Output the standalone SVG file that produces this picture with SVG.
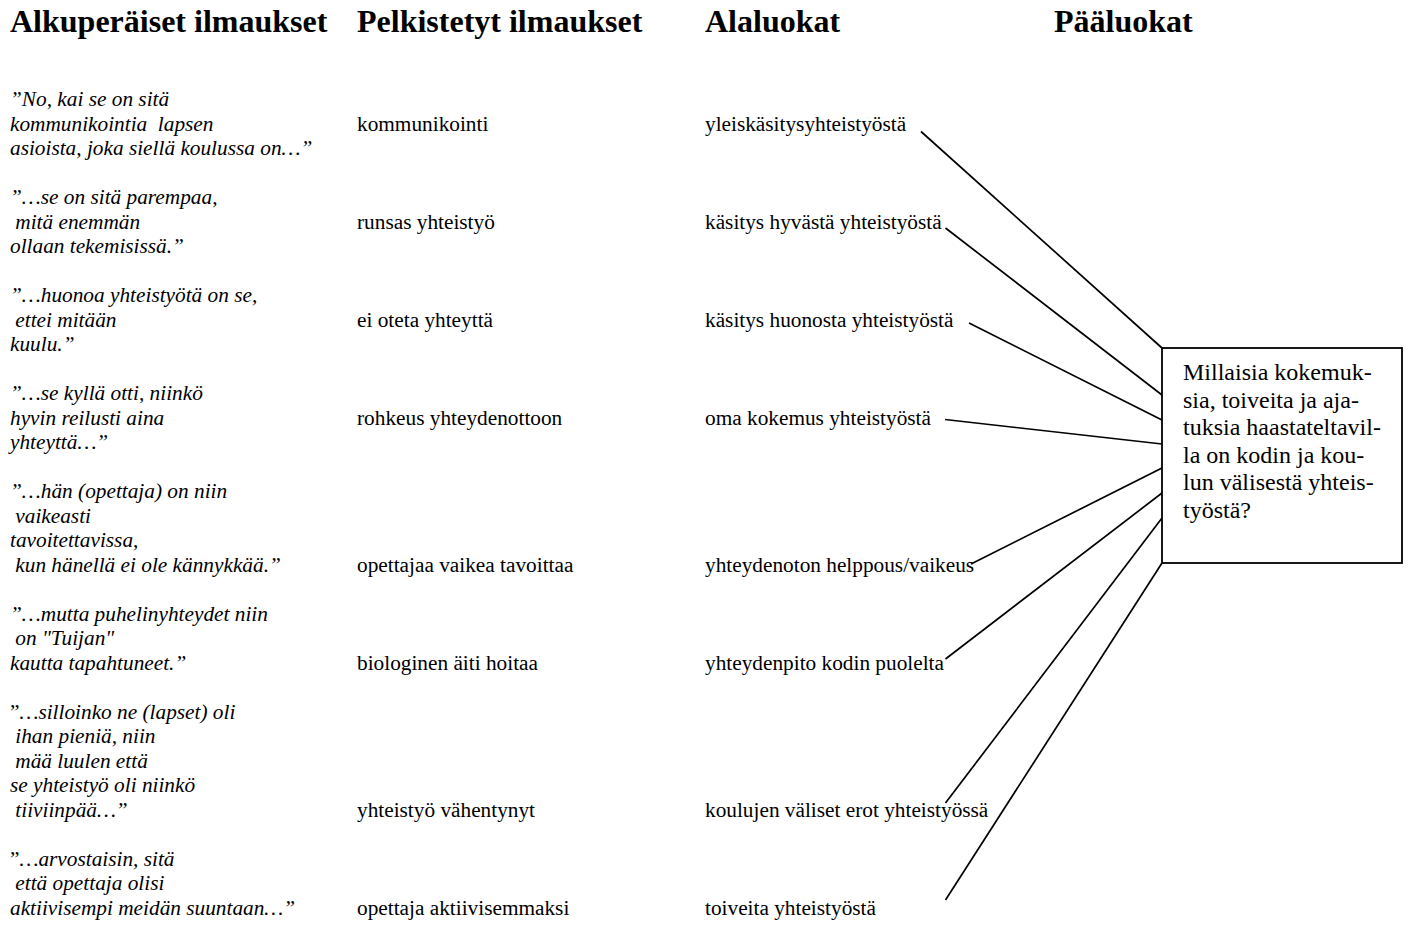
<svg xmlns="http://www.w3.org/2000/svg" width="1411" height="925" viewBox="0 0 1411 925">
<style>
.h{font-family:"Liberation Serif","Times New Roman",serif;font-weight:bold;font-size:32px;fill:#000}
.q{font-family:"Liberation Serif","Times New Roman",serif;font-style:italic;font-size:21.3px;fill:#000;white-space:pre}
.t{font-family:"Liberation Serif","Times New Roman",serif;font-size:21.3px;fill:#000}
.b{font-family:"Liberation Serif","Times New Roman",serif;font-size:24px;fill:#000}
.n{font-style:normal}
.c line{stroke:#000;stroke-width:1.7;fill:none}
</style>
<rect width="1411" height="925" fill="#fff"/>
<g id="headers">
<text class="h" x="10" y="32">Alkuperäiset ilmaukset</text>
<text class="h" x="357" y="32">Pelkistetyt ilmaukset</text>
<text class="h" x="705" y="32">Alaluokat</text>
<text class="h" x="1054" y="32">Pääluokat</text>
</g>
<g id="quotes">
<text class="q" x="10" y="106">”No, kai se on sitä</text>
<text class="q" x="10" y="130.5" xml:space="preserve">kommunikointia  lapsen</text>
<text class="q" x="10" y="155">asioista, joka siellä koulussa on…”</text>
<text class="q" x="10" y="204">”…se on sitä parempaa,</text>
<text class="q" x="15.3" y="228.5">mitä enemmän</text>
<text class="q" x="10" y="253">ollaan tekemisissä.”</text>
<text class="q" x="10" y="302">”…huonoa yhteistyötä on se,</text>
<text class="q" x="15.3" y="326.5">ettei mitään</text>
<text class="q" x="10" y="351">kuulu.”</text>
<text class="q" x="10" y="400">”…se kyllä otti, niinkö</text>
<text class="q" x="10" y="424.5">hyvin reilusti aina</text>
<text class="q" x="10" y="449">yhteyttä…”</text>
<text class="q" x="10" y="498">”…hän (opettaja) on niin</text>
<text class="q" x="15.3" y="522.5">vaikeasti</text>
<text class="q" x="10" y="547">tavoitettavissa,</text>
<text class="q" x="15.3" y="571.5">kun hänellä ei ole kännykkää.”</text>
<text class="q" x="10" y="620.5">”…mutta puhelinyhteydet niin</text>
<text class="q" x="15.3" y="645">on "Tuijan"</text>
<text class="q" x="10" y="669.5">kautta tapahtuneet.”</text>
<text class="q" x="10" y="718.5"><tspan class="n">”</tspan>…silloinko ne (lapset) oli</text>
<text class="q" x="15.3" y="743">ihan pieniä, niin</text>
<text class="q" x="15.3" y="767.5">mää luulen että</text>
<text class="q" x="10" y="792">se yhteistyö oli niinkö</text>
<text class="q" x="15.3" y="816.5">tiiviinpää…”</text>
<text class="q" x="10" y="865.5"><tspan class="n">”</tspan>…arvostaisin, sitä</text>
<text class="q" x="15.3" y="890">että opettaja olisi</text>
<text class="q" x="10" y="914.5">aktiivisempi meidän suuntaan…”</text>
</g>
<g id="reduced" class="t">
<text x="357" y="130.5">kommunikointi</text>
<text x="357" y="228.5">runsas yhteistyö</text>
<text x="357" y="326.5">ei oteta yhteyttä</text>
<text x="357" y="424.5">rohkeus yhteydenottoon</text>
<text x="357" y="571.5">opettajaa vaikea tavoittaa</text>
<text x="357" y="669.5">biologinen äiti hoitaa</text>
<text x="357" y="816.5">yhteistyö vähentynyt</text>
<text x="357" y="914.5">opettaja aktiivisemmaksi</text>
</g>
<g id="subcategories" class="t">
<text id="sub1" x="705" y="130.5">yleiskäsitysyhteistyöstä</text>
<text id="sub2" x="705" y="228.5">käsitys hyvästä yhteistyöstä</text>
<text id="sub3" x="705" y="326.5">käsitys huonosta yhteistyöstä</text>
<text id="sub4" x="705" y="424.5">oma kokemus yhteistyöstä</text>
<text id="sub5" x="705" y="571.5">yhteydenoton helppous/vaikeus</text>
<text id="sub6" x="705" y="669.5">yhteydenpito kodin puolelta</text>
<text id="sub7" x="705" y="816.5">koulujen väliset erot yhteistyössä</text>
<text id="sub8" x="705" y="914.5">toiveita yhteistyöstä</text>
</g>
<g id="connectors" class="c">
<line x1="921" y1="131.5" x2="1162" y2="348"/>
<line x1="945.5" y1="228" x2="1162" y2="395"/>
<line x1="969" y1="323" x2="1162" y2="420"/>
<line x1="945" y1="419.5" x2="1162" y2="444"/>
<line x1="971" y1="564" x2="1162" y2="468"/>
<line x1="945.5" y1="659" x2="1162" y2="493"/>
<line x1="945.5" y1="803" x2="1162" y2="518"/>
<line x1="945.5" y1="900" x2="1162" y2="563"/>
</g>
<g id="main-category">
<rect x="1162" y="348" width="240" height="215" fill="#fff" stroke="#000" stroke-width="1.8"/>
<text class="b" x="1183" y="380">Millaisia kokemuk-</text>
<text class="b" x="1183" y="407.6">sia, toiveita ja aja-</text>
<text class="b" x="1183" y="435.2">tuksia haastateltavil-</text>
<text class="b" x="1183" y="462.8">la on kodin ja kou-</text>
<text class="b" x="1183" y="490.4">lun välisestä yhteis-</text>
<text class="b" x="1183" y="518">työstä?</text>
</g>
</svg>
